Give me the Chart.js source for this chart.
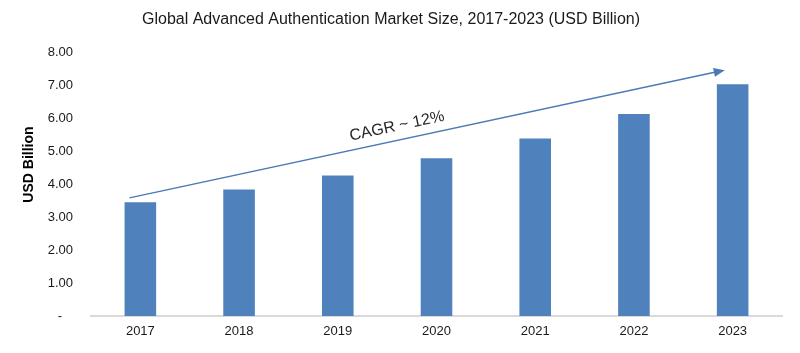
<!DOCTYPE html>
<html>
<head>
<meta charset="utf-8">
<script src="https://cdn.jsdelivr.net/npm/chart.js@4/dist/chart.umd.min.js"></script>
<style>
  html, body { margin: 0; padding: 0; background: #fff; }
  #wrap { width: 800px; height: 353px; }
</style>
</head>
<body>
<div id="wrap"><canvas id="myChart"></canvas></div>
<script>
// Datos del gráfico
const years = ['2017', '2018', '2019', '2020', '2021', '2022', '2023'];
const marketSize = [3.45, 3.83, 4.26, 4.78, 5.38, 6.12, 7.02];
const yTicks = [0, 1, 2, 3, 4, 5, 6, 7, 8];

// Flecha CAGR (índice de categoría, valor)
const arrowStart = [-0.11, 3.58];
const arrowEnd = [5.92, 7.45];
const cagrLabel = 'CAGR ~ 12%';
const cagrPos = [2.6, 5.75];

const fontFamily = '"Liberation Sans", Arial, sans-serif';

// Plugin para dibujar la flecha y el texto
const cagrArrow = {
    id: 'cagrArrow',
    afterDatasetsDraw(chart) {
        const { ctx, scales: { x, y } } = chart;
        const x1 = x.getPixelForValue(arrowStart[0]);
        const y1 = y.getPixelForValue(arrowStart[1]);
        const x2 = x.getPixelForValue(arrowEnd[0]);
        const y2 = y.getPixelForValue(arrowEnd[1]);
        const ang = Math.atan2(y2 - y1, x2 - x1);

        ctx.save();
        ctx.strokeStyle = '#4a7ab5';
        ctx.fillStyle = '#4a7ab5';
        ctx.lineWidth = 1.5;
        ctx.beginPath();
        ctx.moveTo(x1, y1);
        ctx.lineTo(x2 - 8 * Math.cos(ang), y2 - 8 * Math.sin(ang));
        ctx.stroke();

        // punta de flecha
        ctx.beginPath();
        ctx.moveTo(x2, y2);
        ctx.lineTo(x2 - 11 * Math.cos(ang) + 4.5 * Math.sin(ang), y2 - 11 * Math.sin(ang) - 4.5 * Math.cos(ang));
        ctx.lineTo(x2 - 11 * Math.cos(ang) - 4.5 * Math.sin(ang), y2 - 11 * Math.sin(ang) + 4.5 * Math.cos(ang));
        ctx.closePath();
        ctx.fill();

        // texto CAGR
        const tx = x.getPixelForValue(cagrPos[0]);
        const ty = y.getPixelForValue(cagrPos[1]);
        ctx.translate(tx, ty);
        ctx.rotate(ang);
        ctx.fillStyle = '#262626';
        ctx.font = '16px ' + fontFamily;
        ctx.textAlign = 'center';
        ctx.textBaseline = 'middle';
        ctx.fillText(cagrLabel, 0, 0);
        ctx.restore();
    }
};

const ctx = document.getElementById('myChart');

new Chart(ctx, {
    type: 'bar',
    data: {
        labels: years,
        datasets: [{
            label: 'USD Billion',
            data: marketSize,
            backgroundColor: '#4f81bd',
            borderWidth: 0,
            barPercentage: 0.32,
            categoryPercentage: 1
        }]
    },
    options: {
        responsive: true,
        maintainAspectRatio: false,
        animation: false,
        layout: {
            padding: { left: 0, right: 18, top: 0, bottom: 0 }
        },
        plugins: {
            legend: { display: false },
            tooltip: { enabled: false },
            title: {
                display: true,
                text: 'Global Advanced Authentication Market Size, 2017-2023 (USD Billion)',
                color: '#1a1a1a',
                font: { family: fontFamily, size: 16, weight: 'normal' },
                padding: { top: 10, bottom: 22.8 }
            }
        },
        scales: {
            x: {
                grid: { display: false, drawTicks: false },
                border: { display: true, color: '#d9d9d9', width: 2 },
                ticks: {
                    color: '#1a1a1a',
                    font: { family: fontFamily, size: 13 },
                    padding: 8
                },
                afterFit(scale) { scale.height = 37; }
            },
            y: {
                min: 0,
                max: 8,
                grid: { display: false, drawTicks: false },
                border: { display: false },
                afterBuildTicks(scale) {
                    scale.ticks = yTicks.map(v => ({ value: v }));
                },
                ticks: {
                    color: '#1a1a1a',
                    font: { family: fontFamily, size: 13 },
                    padding: 18,
                    callback: (v) => v === 0 ? '-   ' : v.toFixed(2)
                },
                title: {
                    display: true,
                    // espacios iniciales para subir el texto como en el original
                    text: '          USD Billion',
                    color: '#000',
                    font: { family: fontFamily, size: 14, weight: 'bold' },
                    padding: { top: 21, bottom: 0 }
                },
                afterFit(scale) { scale.width = 91; }
            }
        }
    },
    plugins: [cagrArrow]
});
</script>
</body>
</html>
